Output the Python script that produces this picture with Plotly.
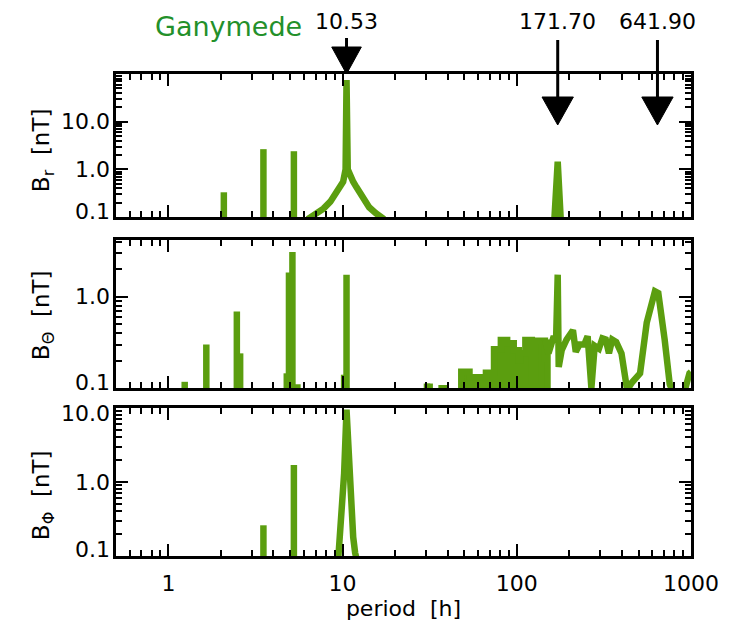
import numpy as np
import plotly.graph_objects as go
from plotly.subplots import make_subplots

# ---------------- data ----------------
# B_r : isolated spectral lines and the main synodic peak
br_spike_period = [2.08, 3.51, 5.25]
br_spike_amp = [0.33, 2.65, 2.4]
br_peak_period = [6.3, 7.0, 7.76, 8.5, 9.2, 9.7, 10.07, 10.4, 10.53, 10.7, 10.97,
                  11.5, 11.97, 13.0, 14.2, 15.5, 17.3]
br_peak_amp = [0.09, 0.115, 0.15, 0.21, 0.31, 0.42, 0.55, 1.0, 75.0, 1.0, 0.75,
               0.55, 0.43, 0.26, 0.16, 0.12, 0.09]
br_orbit_period = [164.0, 171.7, 179.0]
br_orbit_amp = [0.08, 1.45, 0.08]

# B_theta : spectral lines, dense band and long-period part
bth_spike_period = [1.24, 1.65, 2.47, 2.58, 4.78, 4.92, 5.15, 5.5, 10.2, 10.53,
                    30.5, 31.6, 37.0, 38.2]
bth_spike_amp = [0.117, 0.30, 0.69, 0.24, 0.145, 1.85, 3.1, 0.11, 0.14, 1.75,
                 0.112, 0.112, 0.108, 0.108]
bth_band_period = [48.0, 53.5, 66.5, 74.0, 81.0, 88.0, 96.0, 102.6, 105.0, 112.0,
                   122.0, 127.0, 145.0, 150.0]
bth_band_amp = [0.151, 0.131, 0.147, 0.266, 0.337, 0.31, 0.26, 0.2, 0.24, 0.337,
                0.12, 0.33, 0.21, 0.34]
bth_line_period = [145, 152, 163, 168, 171.7, 174, 181, 193, 210, 218, 229, 244, 255,
                   268, 280, 296, 310, 324, 338, 353, 372, 399, 430, 458, 510, 557,
                   621, 649, 706, 755, 788, 915, 980, 1000]
bth_line_amp = [0.34, 0.24, 0.37, 0.33, 1.75, 0.17, 0.26, 0.34, 0.43, 0.25, 0.30, 0.30,
                0.37, 0.10, 0.29, 0.27, 0.35, 0.34, 0.24, 0.34, 0.32, 0.24, 0.095,
                0.115, 0.145, 0.52, 1.15, 1.1, 0.34, 0.11, 0.09, 0.09, 0.145, 0.15]

# B_phi
bph_spike_period = [3.51, 5.25]
bph_spike_amp = [0.26, 1.7]
bph_peak_period = [9.4, 9.8, 10.2, 10.53, 10.9, 11.3, 11.5, 11.8, 12.2]
bph_peak_amp = [0.08, 0.25, 1.3, 9.5, 1.3, 0.3, 0.18, 0.11, 0.08]

# marked periods [h]
marker_period = [10.53, 171.70, 641.90]

# axis ticks
x_tick_vals = [1, 10, 100, 1000]
x_tick_text = ["1", "10", "100", "1000"]
y_tick_vals = [[0.1, 1, 10], [0.1, 1], [0.1, 1, 10]]
y_tick_text = [["0.1", "1.0", "10.0"], ["0.1", "1.0"], ["0.1", "1.0", "10.0"]]
y_ranges = [(0.1, 100.0), (0.1, 4.2), (0.1, 10.0)]
x_range = (0.5, 1000.0)

# ---------------- style ----------------
LINE = "#5b9e0f"
TITLE_GREEN = "#23902a"
FONT = "DejaVu Sans"
LW = 6.5
FLOOR = 0.01
TICK_SIZE = 22


def spikes(periods, amps):
    xs, ys = [], []
    for p, a in zip(periods, amps):
        xs += [p, p, None]
        ys += [FLOOR, a, None]
    return xs, ys


fig = make_subplots(rows=3, cols=1)


def add_line(x, y, row, **kw):
    fig.add_trace(go.Scatter(x=x, y=y, mode="lines",
                             line=dict(color=LINE, width=LW, **kw.pop("line", {})),
                             showlegend=False, hoverinfo="skip", **kw),
                  row=row, col=1)


# row 1 : B_r
sx, sy = spikes(br_spike_period, br_spike_amp)
add_line(sx, sy, 1)
add_line(br_peak_period, br_peak_amp, 1)
add_line(br_orbit_period, br_orbit_amp, 1)

# row 2 : B_theta
sx, sy = spikes(bth_spike_period, bth_spike_amp)
add_line(sx, sy, 2)
bx = [bth_band_period[0]] + bth_band_period + [bth_band_period[-1]]
by = [FLOOR] + bth_band_amp + [FLOOR]
add_line(bx, by, 2, fill="toself", fillcolor=LINE, line=dict(shape="hv"))
add_line(bth_line_period, bth_line_amp, 2)

# row 3 : B_phi
sx, sy = spikes(bph_spike_period, bph_spike_amp)
add_line(sx, sy, 3)
add_line(bph_peak_period, bph_peak_amp, 3)

# ---------------- axes ----------------
def log_minor(lo, hi):
    vals = []
    for e in range(int(np.floor(np.log10(lo))) - 1, int(np.ceil(np.log10(hi))) + 1):
        for k in range(2, 10):
            v = k * 10.0 ** e
            if lo < v < hi:
                vals.append(v)
    return vals


domains = [[0.7033, 1.0], [0.3485, 0.6556], [0.0, 0.307]]
common = dict(type="log", ticks="inside", ticklen=12, tickwidth=2, tickcolor="black",
              showline=True, linewidth=3, linecolor="black", mirror="ticks",
              showgrid=False, zeroline=False,
              tickfont=dict(family=FONT, size=TICK_SIZE, color="black"))

annots = []
for i in range(3):
    fig.update_xaxes(common, range=[np.log10(x_range[0]), np.log10(x_range[1])],
                     tickvals=x_tick_vals, ticktext=x_tick_text,
                     showticklabels=(i == 2), ticklabelstandoff=6,
                     minor=dict(ticks="inside", ticklen=6, tickwidth=2, tickcolor="black",
                                tickvals=log_minor(*x_range), showgrid=False),
                     row=i + 1, col=1)
    lo, hi = y_ranges[i]
    fig.update_yaxes(common, range=[np.log10(lo), np.log10(hi)], domain=domains[i],
                     tickvals=y_tick_vals[i], showticklabels=False,
                     minor=dict(ticks="inside", ticklen=6, tickwidth=2, tickcolor="black",
                                tickvals=log_minor(lo, hi), showgrid=False),
                     row=i + 1, col=1)
    # y tick labels, nudged inward at the ends of each panel
    yref = "y" if i == 0 else f"y{i + 1}"
    for v, t in zip(y_tick_vals[i], y_tick_text[i]):
        shift = 0
        if np.isclose(v, lo):
            shift = 6
        elif np.isclose(v, hi):
            shift = -5
        annots.append(dict(x=0, y=np.log10(v), xref="paper", yref=yref, text=t,
                           showarrow=False, xanchor="right", yanchor="middle",
                           xshift=-4, yshift=shift,
                           font=dict(family=FONT, size=TICK_SIZE, color="black")))

fig.update_xaxes(title=dict(text="period  [h]", font=dict(family=FONT, size=22, color="black"),
                            standoff=2), row=3, col=1)

# ---------------- arrows for marked periods ----------------
H = 482.0  # plot-area height in px
def py(ypix):
    return (556.0 - ypix) / H

shapes = []
for j, p in enumerate(marker_period):
    if j == 0:
        shaft = (38, 48)
        head = (47, 74)
        half = 0.085
    else:
        shaft = (40, 98)
        head = (97, 125)
        half = 0.09
    shapes.append(dict(type="line", xref="x", yref="paper", x0=p, x1=p,
                       y0=py(shaft[0]), y1=py(shaft[1]),
                       line=dict(color="black", width=3)))
    xl, xr = p * 10 ** (-half), p * 10 ** half
    path = f"M {xl},{py(head[0])} L {xr},{py(head[0])} L {p},{py(head[1])} Z"
    shapes.append(dict(type="path", xref="x", yref="paper", path=path,
                       fillcolor="black", line=dict(color="black", width=1)))
    annots.append(dict(x=np.log10(p), y=py(22), xref="x", yref="paper",
                       text=f"{p:.2f}", showarrow=False, xanchor="center", yanchor="middle",
                       font=dict(family=FONT, size=22, color="black")))

annots.append(dict(x=(230 - 116) / 584.0, y=py(27), xref="paper", yref="paper",
                   text="Ganymede", showarrow=False, xanchor="center", yanchor="middle",
                   font=dict(family=FONT, size=27, color=TITLE_GREEN)))

ylabels = ["B<sub>r</sub>  [nT]", "B<sub>Θ</sub>  [nT]", "B<sub>Φ</sub>  [nT]"]
ylabel_y = [150, 315, 495]
for lab, yp in zip(ylabels, ylabel_y):
    annots.append(dict(x=(42 - 116) / 584.0, y=py(yp), xref="paper", yref="paper",
                       text=lab, textangle=-90, showarrow=False,
                       xanchor="center", yanchor="middle",
                       font=dict(family=FONT, size=23, color="black")))

fig.update_layout(width=731, height=629,
                  margin=dict(l=116, r=31, t=74, b=73),
                  plot_bgcolor="white", paper_bgcolor="white",
                  shapes=shapes, annotations=annots,
                  font=dict(family=FONT, color="black"))

fig.write_html("out.html")
